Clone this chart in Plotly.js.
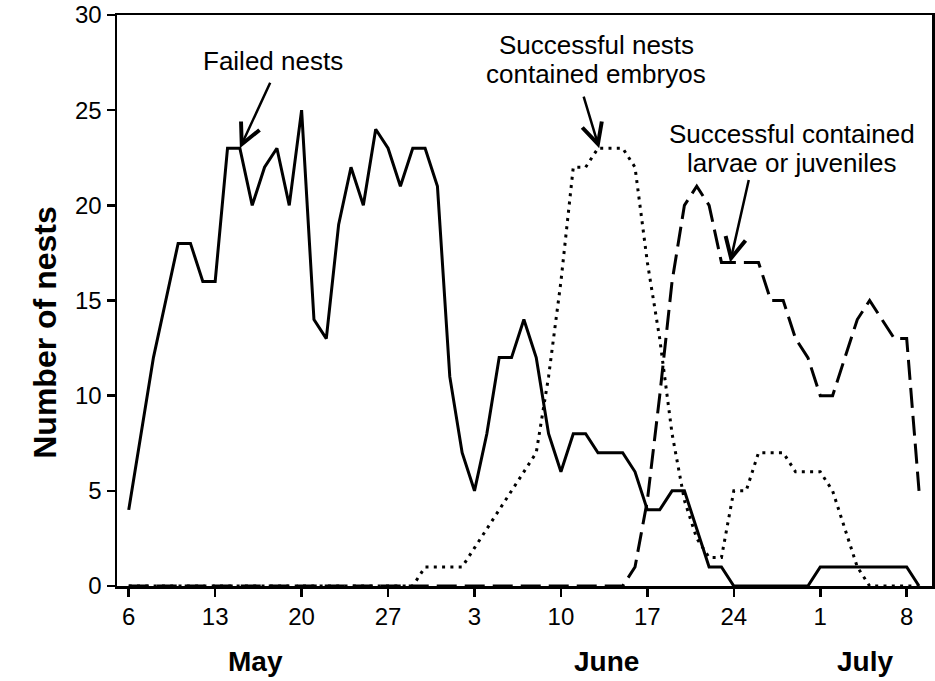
<!DOCTYPE html>
<html>
<head>
<meta charset="utf-8">
<script src="https://cdn.plot.ly/plotly-3.0.1.min.js"></script>
<style>html,body{margin:0;padding:0;background:#fff;}#chart{width:935px;height:681px;}</style>
</head>
<body>
<div id="chart"></div>
<script>
// Day index 0 = 6 May
const dayIndex = Array.from({length: 65}, (_, i) => i);

const failedNests = [4, 8, 12, 15, 18, 18, 16, 16, 23, 23, 20, 22, 23, 20, 25, 14, 13, 19, 22, 20,
  24, 23, 21, 23, 23, 21, 11, 7, 5, 8, 12, 12, 14, 12, 8, 6, 8, 8, 7, 7,
  7, 6, 4, 4, 5, 5, 3, 1, 1, 0, 0, 0, 0, 0, 0, 0, 1, 1, 1, 1,
  1, 1, 1, 1, 0];

const embryoNests = [0, 0, 0, 0, 0, 0, 0, 0, 0, 0, 0, 0, 0, 0, 0, 0, 0, 0, 0, 0,
  0, 0, 0, 0, 1, 1, 1, 1, 2, 3, 4, 5, 6, 7, 11, 16, 22, 22, 23, 23,
  23, 22, 17, 13, 8, 4.5, 2.5, 1.5, 1.5, 5, 5, 7, 7, 7, 6, 6, 6, 5, 3, 1,
  0, 0, 0, 0, 0];

const larvaeNests = [0, 0, 0, 0, 0, 0, 0, 0, 0, 0, 0, 0, 0, 0, 0, 0, 0, 0, 0, 0,
  0, 0, 0, 0, 0, 0, 0, 0, 0, 0, 0, 0, 0, 0, 0, 0, 0, 0, 0, 0,
  0, 1, 4.5, 10, 16, 20, 21, 20, 17, 17, 17, 17, 15, 15, 13, 12, 10, 10, 12, 14,
  15, 14, 13, 13, 5];

const tickDays = [0, 7, 14, 21, 28, 35, 42, 49, 56, 63];
const tickLabels = ['6', '13', '20', '27', '3', '10', '17', '24', '1', '8'];
const monthNames = ['May', 'June', 'July'];
const monthCentres = [10.3, 38.7, 59.6];

const FONT = 'Arial, "Liberation Sans", sans-serif';

const traces = [
  {x: dayIndex, y: embryoNests, mode: 'lines', line: {color: 'black', width: 3, dash: '3px,5.3px'}, hoverinfo: 'skip'},
  {x: dayIndex, y: larvaeNests, mode: 'lines', line: {color: 'black', width: 3, dash: '20px,8px'}, hoverinfo: 'skip'},
  {x: dayIndex, y: failedNests, mode: 'lines', line: {color: 'black', width: 3}, hoverinfo: 'skip'}
];

const arrowStyle = {showarrow: true, text: '', arrowhead: 5, arrowsize: 1.6, arrowwidth: 2.5, arrowcolor: 'black', standoff: 0, xref: 'x', yref: 'y'};
const textStyle = {showarrow: false, xref: 'x', yref: 'y', xanchor: 'center', yanchor: 'middle', font: {size: 26, color: 'black', family: FONT}};

const annotations = [
  Object.assign({}, textStyle, {x: 11.68, y: 27.56, text: 'Failed nests'}),
  Object.assign({}, arrowStyle, {x: 9, y: 23, ax: 31, ay: -67}),
  Object.assign({}, textStyle, {x: 37.84, y: 28.45, text: 'Successful nests'}),
  Object.assign({}, textStyle, {x: 37.84, y: 26.88, text: 'contained embryos'}),
  Object.assign({}, arrowStyle, {x: 38.1, y: 23, ax: -16, ay: -53}),
  Object.assign({}, textStyle, {x: 53.71, y: 23.75, text: 'Successful contained'}),
  Object.assign({}, textStyle, {x: 53.71, y: 22.23, text: 'larvae or juveniles'}),
  Object.assign({}, arrowStyle, {x: 48.7, y: 17, ax: 19, ay: -84}),
  {text: '<b>Number of nests</b>', xref: 'paper', yref: 'paper', x: -0.0883, y: 0.4436,
    xanchor: 'center', yanchor: 'middle', textangle: -90, showarrow: false,
    font: {size: 32, color: 'black', family: FONT}}
];
monthNames.forEach((m, i) => {
  annotations.push({text: '<b>' + m + '</b>', x: monthCentres[i], xref: 'x', y: 0, yref: 'paper',
    yanchor: 'middle', yshift: -75, showarrow: false, font: {size: 28, color: 'black', family: FONT}});
});

const axisCommon = {showline: true, linewidth: 2.5, linecolor: 'black', mirror: true, ticks: 'outside',
  ticklen: 8, tickwidth: 2.5, tickcolor: 'black', showgrid: false, zeroline: false,
  tickfont: {size: 24, color: 'black', family: FONT}};

const layout = {
  width: 935, height: 681,
  margin: {l: 117, r: 3, t: 15, b: 95, pad: 0},
  paper_bgcolor: 'white', plot_bgcolor: 'white',
  showlegend: false,
  font: {family: FONT, color: 'black'},
  xaxis: Object.assign({}, axisCommon, {range: [-0.95, 65.05], tickmode: 'array', tickvals: tickDays, ticktext: tickLabels}),
  yaxis: Object.assign({}, axisCommon, {range: [0, 30], tickmode: 'linear', tick0: 0, dtick: 5}),
  annotations: annotations
};

Plotly.newPlot('chart', traces, layout, {staticPlot: true, displayModeBar: false});
</script>
</body>
</html>
